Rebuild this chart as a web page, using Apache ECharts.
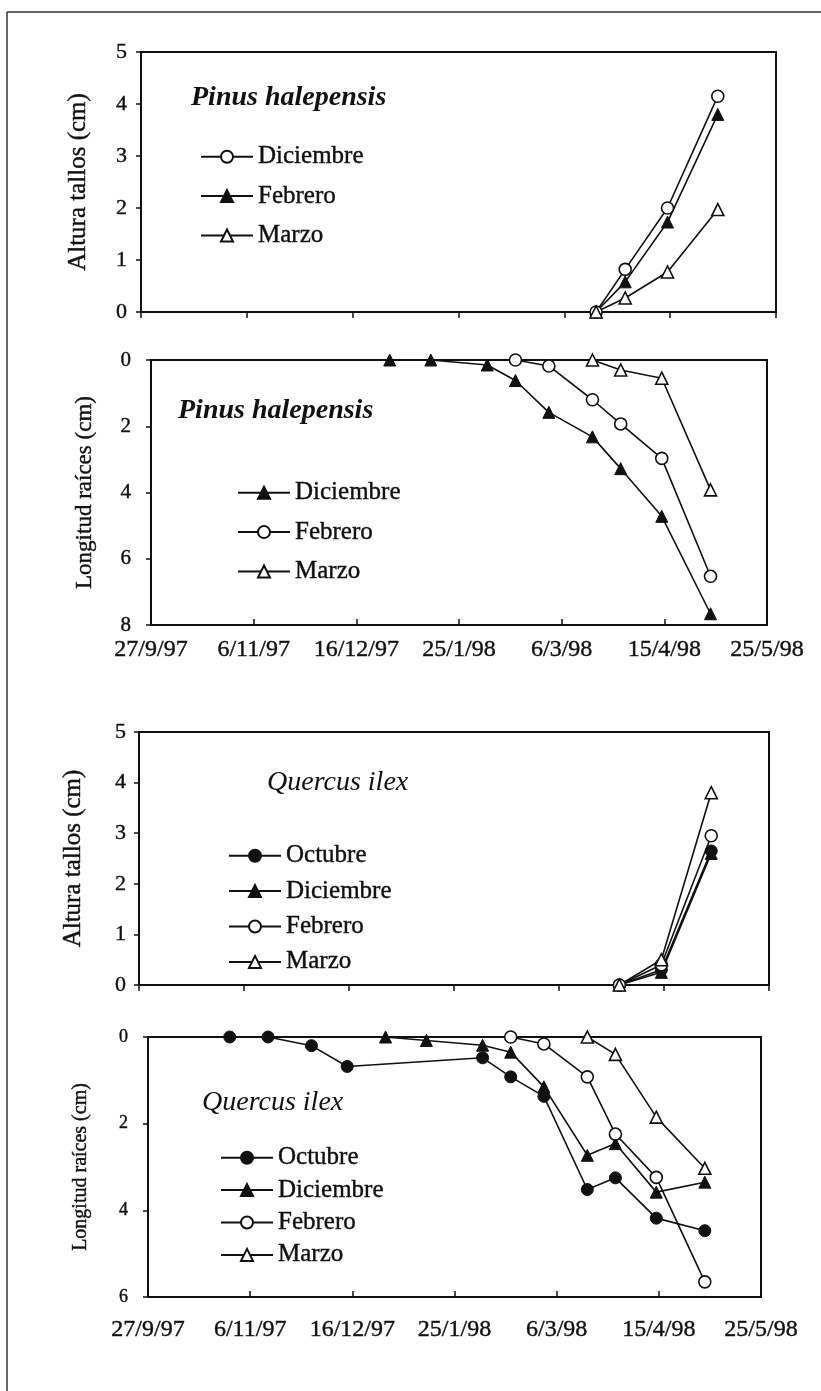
<!DOCTYPE html>
<html><head><meta charset="utf-8">
<script src="https://cdn.jsdelivr.net/npm/echarts/dist/echarts.min.js"></script>
<style>html,body{margin:0;padding:0;background:#fff}#c{width:821px;height:1391px}</style>
</head><body><div id="c"></div>
<script>
// ---- data ----
const originDate = '1997-09-27';

const pinusHeightDates = ['1998-03-18','1998-03-29','1998-04-14','1998-05-03'];
const pinusHeightDiciembre = [0, 0.82, 2.0, 4.15];
const pinusHeightFebrero = [0, 0.58, 1.73, 3.8];
const pinusHeightMarzo = [0, 0.27, 0.77, 1.97];

const pinusRootDatesDic = ['1997-12-29','1998-01-14','1998-02-05','1998-02-16','1998-03-01','1998-03-18','1998-03-29','1998-04-14','1998-05-03'];
const pinusRootDiciembre = [0, 0, 0.15, 0.62, 1.58, 2.32, 3.28, 4.72, 7.66];
const pinusRootDatesFeb = ['1998-02-16','1998-03-01','1998-03-18','1998-03-29','1998-04-14','1998-05-03'];
const pinusRootFebrero = [0, 0.18, 1.2, 1.93, 2.97, 6.53];
const pinusRootDatesMar = ['1998-03-18','1998-03-29','1998-04-14','1998-05-03'];
const pinusRootMarzo = [0, 0.3, 0.55, 3.92];

const quercusHeightDates = ['1998-03-29','1998-04-14','1998-05-03'];
const quercusHeightOctubre = [0, 0.3, 2.65];
const quercusHeightDiciembre = [0, 0.25, 2.6];
const quercusHeightFebrero = [0, 0.4, 2.95];
const quercusHeightMarzo = [0, 0.5, 3.8];

const quercusRootDatesOct = ['1997-10-29','1997-11-13','1997-11-30','1997-12-14','1998-02-05','1998-02-16','1998-03-01','1998-03-18','1998-03-29','1998-04-14','1998-05-03'];
const quercusRootOctubre = [0, 0, 0.2, 0.68, 0.48, 0.92, 1.37, 3.52, 3.25, 4.18, 4.47];
const quercusRootDatesDic = ['1997-12-29','1998-01-14','1998-02-05','1998-02-16','1998-03-01','1998-03-18','1998-03-29','1998-04-14','1998-05-03'];
const quercusRootDiciembre = [0, 0.08, 0.19, 0.35, 1.15, 2.73, 2.46, 3.58, 3.35];
const quercusRootDatesFeb = ['1998-02-16','1998-03-01','1998-03-18','1998-03-29','1998-04-14','1998-05-03'];
const quercusRootFebrero = [0, 0.16, 0.92, 2.24, 3.24, 5.65];
const quercusRootDatesMar = ['1998-03-18','1998-03-29','1998-04-14','1998-05-03'];
const quercusRootMarzo = [0, 0.4, 1.85, 3.03];

// ---- helpers ----
const DAY = 86400000;
const t0 = Date.parse(originDate);
const dayOf = s => Math.round((Date.parse(s) - t0) / DAY);
const pairs = (dates, vals) => dates.map((d, i) => [dayOf(d), vals[i]]);
const fmtDay = v => { const d = new Date(t0 + v * DAY); return d.getUTCDate() + '/' + (d.getUTCMonth() + 1) + '/' + String(d.getUTCFullYear()).slice(2); };

const INK = '#111';
const FONT = 'Liberation Serif';
const HEAVY = {textBorderColor: INK, textBorderWidth: 0.4};
const mk = {
  openCircle: {symbol: 'circle', itemStyle: {color: '#fff', borderColor: INK, borderWidth: 1.6}},
  fillCircle: {symbol: 'circle', itemStyle: {color: INK, borderColor: INK, borderWidth: 1}},
  openTri: {symbol: 'triangle', itemStyle: {color: '#fff', borderColor: INK, borderWidth: 1.6}},
  fillTri: {symbol: 'triangle', itemStyle: {color: INK, borderColor: INK, borderWidth: 1}}
};
function ser(name, idx, data, m) {
  return {
    type: 'line', name: name, xAxisIndex: idx, yAxisIndex: idx, data: data,
    symbol: m.symbol, symbolSize: 12, showAllSymbol: true,
    itemStyle: m.itemStyle, lineStyle: {color: INK, width: 1.6},
    emphasis: {disabled: true}, silent: true, animation: false
  };
}
const grids = [
  {left: 141, right: 45, top: 52, height: 260},
  {left: 151, right: 54, top: 360, height: 265},
  {left: 139, right: 52, top: 732, height: 253},
  {left: 148, right: 60, top: 1037, height: 260}
].map(g => Object.assign(g, {show: true, borderColor: INK, borderWidth: 2, containLabel: false}));

function xAx(idx, showLabels, labelMargin) {
  return {
    type: 'value', gridIndex: idx, min: 0, max: 240, interval: 40,
    axisLine: {show: true, onZero: false, lineStyle: {color: INK, width: 2}},
    axisTick: {show: true, inside: showLabels, length: 6, lineStyle: {color: INK, width: 1.5}},
    axisLabel: Object.assign({show: showLabels, formatter: fmtDay, fontFamily: FONT, fontSize: 24, color: INK, margin: labelMargin, showMinLabel: true, showMaxLabel: true}, HEAVY),
    splitLine: {show: false}, position: 'bottom'
  };
}
function yAx(idx, max, interval, inverse, name, nameSize, nameGap, labelSize, labelMargin) {
  return {
    type: 'value', gridIndex: idx, min: 0, max: max, interval: interval, inverse: inverse,
    name: name, nameLocation: 'middle', nameRotate: 90, nameGap: nameGap,
    nameTextStyle: Object.assign({fontFamily: FONT, fontSize: nameSize, color: INK}, HEAVY),
    axisLine: {show: true, lineStyle: {color: INK, width: 2}},
    axisTick: {show: true, inside: false, length: 5, lineStyle: {color: INK, width: 1.5}},
    axisLabel: Object.assign({fontFamily: FONT, fontSize: labelSize, color: INK, margin: labelMargin}, HEAVY),
    splitLine: {show: false}
  };
}
function leg(names, left, top, gap) {
  return {
    data: names, orient: 'vertical', left: left, top: top, itemGap: gap, padding: 0,
    itemWidth: 52, itemHeight: 15, selectedMode: false,
    formatter: n => n.split('|')[1],
    textStyle: Object.assign({fontFamily: FONT, fontSize: 25, color: INK}, HEAVY)
  };
}
function species(text, x, y, size, weight) {
  return {type: 'text', left: x, top: y - size / 2 - 2, silent: true,
    style: {text: text, fontFamily: FONT, fontStyle: 'italic', fontWeight: weight, fontSize: size, fill: INK}};
}

const option = {
  animation: false,
  backgroundColor: '#fff',
  grid: grids,
  xAxis: [xAx(0, false, 8), xAx(1, true, 13), xAx(2, false, 8), xAx(3, true, 21)],
  yAxis: [
    yAx(0, 5, 1, false, 'Altura tallos (cm)', 25, 50, 22, 14),
    yAx(1, 8, 2, true, 'Longitud raíces (cm)', 23, 55, 21, 20),
    yAx(2, 5, 1, false, 'Altura tallos (cm)', 25, 53, 22, 13),
    yAx(3, 6, 2, true, 'Longitud raíces (cm)', 20, 57, 18, 20)
  ],
  legend: [
    leg(['p1|Diciembre', 'p1|Febrero', 'p1|Marzo'], 200, 144, 14),
    leg(['p2|Diciembre', 'p2|Febrero', 'p2|Marzo'], 237, 480, 14),
    leg(['p3|Octubre', 'p3|Diciembre', 'p3|Febrero', 'p3|Marzo'], 228, 843, 10),
    leg(['p4|Octubre', 'p4|Diciembre', 'p4|Febrero', 'p4|Marzo'], 220, 1145, 7)
  ],
  series: [
    ser('p1|Diciembre', 0, pairs(pinusHeightDates, pinusHeightDiciembre), mk.openCircle),
    ser('p1|Febrero', 0, pairs(pinusHeightDates, pinusHeightFebrero), mk.fillTri),
    ser('p1|Marzo', 0, pairs(pinusHeightDates, pinusHeightMarzo), mk.openTri),

    ser('p2|Diciembre', 1, pairs(pinusRootDatesDic, pinusRootDiciembre), mk.fillTri),
    ser('p2|Febrero', 1, pairs(pinusRootDatesFeb, pinusRootFebrero), mk.openCircle),
    ser('p2|Marzo', 1, pairs(pinusRootDatesMar, pinusRootMarzo), mk.openTri),

    ser('p3|Octubre', 2, pairs(quercusHeightDates, quercusHeightOctubre), mk.fillCircle),
    ser('p3|Diciembre', 2, pairs(quercusHeightDates, quercusHeightDiciembre), mk.fillTri),
    ser('p3|Febrero', 2, pairs(quercusHeightDates, quercusHeightFebrero), mk.openCircle),
    ser('p3|Marzo', 2, pairs(quercusHeightDates, quercusHeightMarzo), mk.openTri),

    ser('p4|Octubre', 3, pairs(quercusRootDatesOct, quercusRootOctubre), mk.fillCircle),
    ser('p4|Diciembre', 3, pairs(quercusRootDatesDic, quercusRootDiciembre), mk.fillTri),
    ser('p4|Febrero', 3, pairs(quercusRootDatesFeb, quercusRootFebrero), mk.openCircle),
    ser('p4|Marzo', 3, pairs(quercusRootDatesMar, quercusRootMarzo), mk.openTri)
  ],
  graphic: [
    {type: 'line', silent: true, shape: {x1: 7, y1: 12, x2: 821, y2: 12}, style: {stroke: '#333', lineWidth: 1.5}},
    {type: 'line', silent: true, shape: {x1: 7, y1: 12, x2: 7, y2: 1391}, style: {stroke: '#333', lineWidth: 1.5}},
    species('Pinus halepensis', 191, 100, 28, 'bold'),
    species('Pinus halepensis', 178, 413, 28, 'bold'),
    species('Quercus ilex', 267, 785, 28, 'normal'),
    species('Quercus ilex', 202, 1105, 28, 'normal')
  ]
};
const chart = echarts.init(document.getElementById('c'), null, {renderer: 'canvas'});
chart.setOption(option);
</script></body></html>
